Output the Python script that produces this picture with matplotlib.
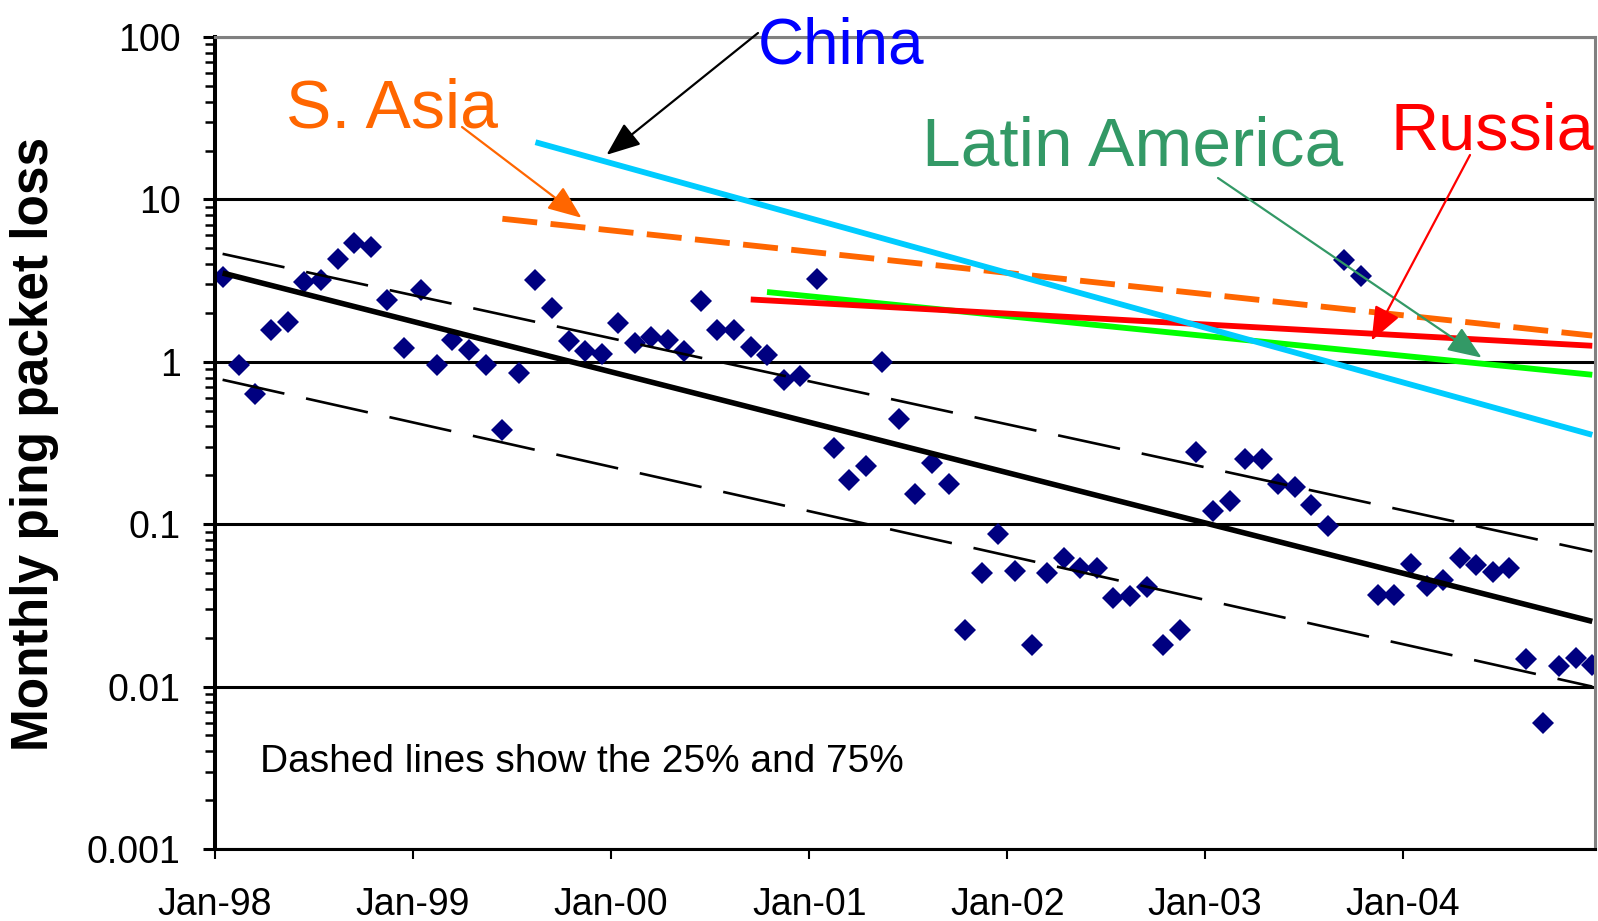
import matplotlib
matplotlib.use('Agg')
import matplotlib.pyplot as plt
import matplotlib.dates as mdates
from matplotlib.ticker import LogLocator, NullFormatter
import pandas as pd

plt.rcParams['font.family'] = 'Liberation Sans'

# Monthly ping packet loss (%), Jan-98 .. Dec-04, plotted mid-month
months = pd.date_range('1998-01-01', '2004-12-01', freq='MS') + pd.Timedelta(days=14)
loss = [
    3.35, 0.95, 0.635, 1.57, 1.75, 3.12, 3.2, 4.31, 5.4, 5.06, 2.41, 1.22,           # 1998
    2.78, 0.95, 1.37, 1.19, 0.96, 0.381, 0.855, 3.2, 2.15, 1.35, 1.17, 1.12,         # 1999
    1.73, 1.30, 1.43, 1.37, 1.16, 2.37, 1.57, 1.57, 1.24, 1.10, 0.775, 0.82,         # 2000
    3.23, 0.294, 0.188, 0.227, 1.0, 0.444, 0.153, 0.238, 0.177, 0.0224, 0.050, 0.0869,  # 2001
    0.0516, 0.0181, 0.050, 0.0618, 0.0537, 0.0537, 0.0351, 0.0359, 0.041, 0.0181, 0.0224, 0.280,  # 2002
    0.120, 0.138, 0.252, 0.252, 0.177, 0.169, 0.132, 0.0968, 4.25, 3.39, 0.0367, 0.0367,  # 2003
    0.0568, 0.0414, 0.0454, 0.0618, 0.0562, 0.0511, 0.0537, 0.0148, 0.00593, 0.0133, 0.0150, 0.0136,  # 2004
]

# exponential fits (start / end values) for the median and the 25% / 75% bands
trend_dates = pd.to_datetime(['1998-01-15', '2004-12-15'])
median_fit = [3.52, 0.0252]
upper_fit = [4.62, 0.068]
lower_fit = [0.775, 0.0100]

# regional trend lines
china_dates = pd.to_datetime(['1999-08-15', '2004-12-15'])
china_fit = [22.5, 0.355]
sasia_dates = pd.to_datetime(['1999-06-15', '2004-12-15'])
sasia_fit = [7.6, 1.45]
latam_dates = pd.to_datetime(['2000-10-15', '2004-12-15'])
latam_fit = [2.69, 0.832]
russia_dates = pd.to_datetime(['2000-09-15', '2004-12-15'])
russia_fit = [2.42, 1.255]

yticks = [0.001, 0.01, 0.1, 1, 10, 100]
ytick_labels = ['0.001', '0.01', '0.1', '1', '10', '100']

fig = plt.figure(figsize=(15.98, 9.21), dpi=100)
ax = fig.add_axes([0.13454, 0.07818, 0.86358, 0.88165])

ax.plot(months, loss, 'D', ms=11.5, color='#000080', mew=0, zorder=2)

ax.plot(trend_dates, upper_fit, color='black', lw=1.9, dashes=(24, 8.4), zorder=3)
ax.plot(trend_dates, lower_fit, color='black', lw=1.9, dashes=(24, 8.4), zorder=3)
ax.plot(trend_dates, median_fit, color='black', lw=4.0, solid_capstyle='butt', zorder=3)

ax.plot(sasia_dates, sasia_fit, color='#FF6600', lw=4.2, dashes=(6.0, 2.3), zorder=4)
ax.plot(latam_dates, latam_fit, color='#00FF00', lw=4.2, solid_capstyle='butt', zorder=4)
ax.plot(russia_dates, russia_fit, color='#FF0000', lw=4.2, solid_capstyle='butt', zorder=4)
ax.plot(china_dates, china_fit, color='#00CCFF', lw=4.2, solid_capstyle='butt', zorder=4)

ax.set_yscale('log')
ax.set_ylim(0.001, 100)
ax.set_xlim(pd.Timestamp('1998-01-01'), pd.Timestamp('2004-12-20'))
ax.set_yticks(yticks, labels=ytick_labels)
ax.yaxis.set_minor_locator(LogLocator(base=10, subs=range(2, 10)))
ax.yaxis.set_minor_formatter(NullFormatter())
ax.xaxis.set_major_locator(mdates.YearLocator())
ax.xaxis.set_major_formatter(mdates.DateFormatter('%b-%y'))

ax.tick_params(axis='y', which='major', direction='out', length=8.6, width=2.2,
               labelsize=27, pad=16)
ax.tick_params(axis='y', which='minor', direction='out', length=7, width=1.8)
ax.tick_params(axis='x', which='major', direction='out', length=7.5, width=1.5,
               labelsize=27, pad=20)

ax.set_axisbelow(True)
ax.yaxis.grid(True, which='major', color='black', lw=2.2)
ax.spines['left'].set_linewidth(2.9)
ax.spines['bottom'].set_linewidth(2.2)
for side in ('top', 'right'):
    ax.spines[side].set_color('#808080')
    ax.spines[side].set_linewidth(2.2)

fig.text(0.0216, 0.5185, 'Monthly ping packet loss', rotation=90, ha='center',
         va='center', fontsize=37, fontweight='bold')
ax.text(0.0326, 0.0948, 'Dashed lines show the 25% and 75%', transform=ax.transAxes,
        ha='left', va='baseline', fontsize=28)

# region labels with arrows pointing at their trend lines
labels = [
    ('China', '#0000FF', 46, (758, 858), 'black', (758, 888), ('1999-12-24', 18.8)),
    ('S. Asia', '#FF6600', 49, (286, 794), '#FF6600', (462, 794), ('1999-11-08', 7.7)),
    ('Latin America', '#339966', 50, (922, 755), '#339966', (1218, 743), ('2004-05-25', 1.06)),
    ('Russia', '#FF0000', 48, (1390, 771), '#FF0000', (1470, 766), ('2003-11-04', 1.35)),
]
for text, tcolor, size, (tx, ty), acolor, tail, (tip_date, tip_val) in labels:
    fig.text(tx / 1598, ty / 921, text, color=tcolor, fontsize=size,
             ha='left', va='baseline')
    ax.annotate('', xy=(pd.Timestamp(tip_date), tip_val), xycoords='data',
                xytext=tail, textcoords='figure pixels', zorder=6,
                arrowprops=dict(arrowstyle='-|>,head_length=0.55,head_width=0.22',
                                color=acolor, lw=1.6, mutation_scale=38,
                                shrinkA=0, shrinkB=0))

fig.savefig('out.png', dpi=100)
plt.close(fig)
